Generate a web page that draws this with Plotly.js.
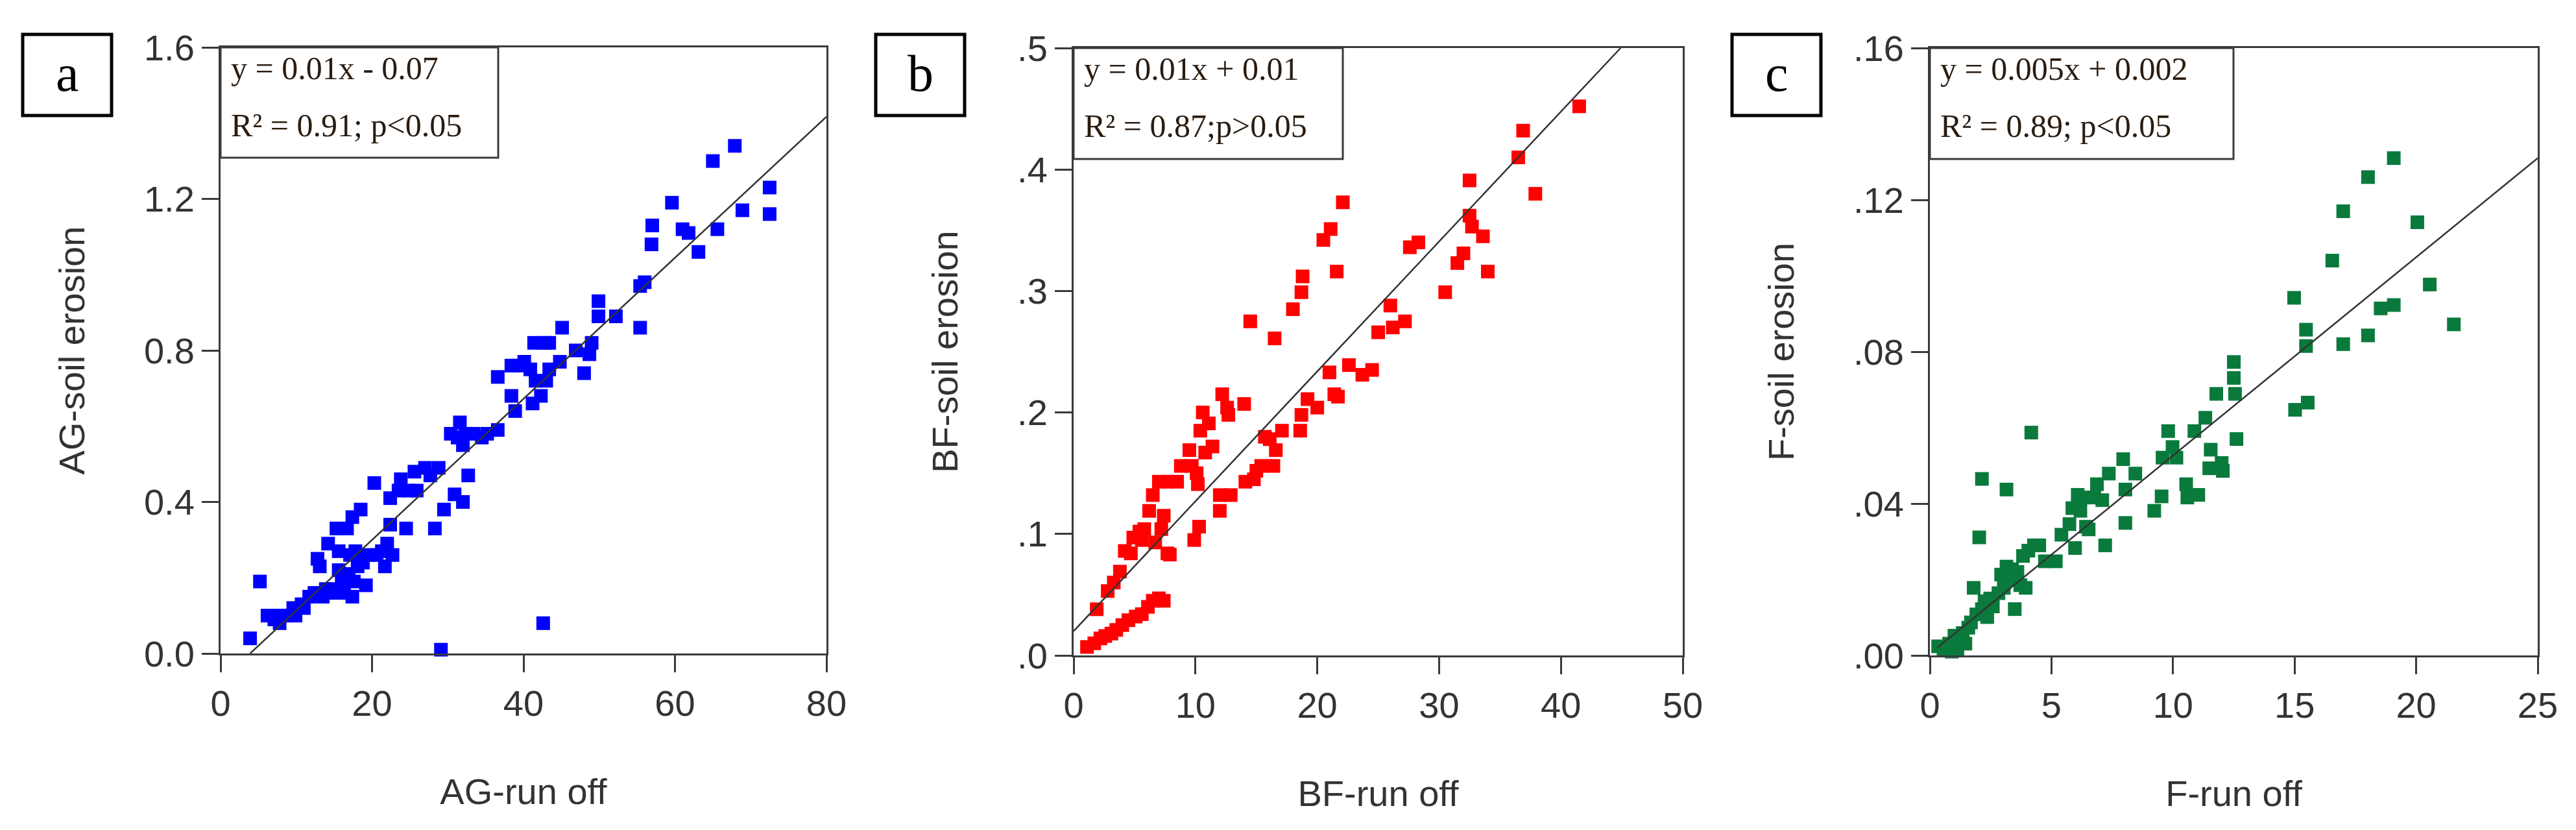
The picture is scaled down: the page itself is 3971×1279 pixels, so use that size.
<!DOCTYPE html>
<html>
<head>
<meta charset="utf-8">
<script src="https://cdn.plot.ly/plotly-3.0.1.min.js"></script>
<style>html,body{margin:0;padding:0;background:#fff;}#chart{width:3971px;height:1279px;}</style>
</head>
<body>
<div id="chart"></div>
<script>
// ---------------- DATA ----------------
// Panel a: AG
const agRunoff = [3.9,5.2,6.2,7.1,7.8,7.8,8.9,9.6,9.9,10.7,11.0,11.7,12.4,12.8,13.1,13.5,13.9,14.2,14.6,14.9,15.3,15.6,15.6,16.0,16.3,16.7,16.9,17.1,17.4,17.4,17.6,17.8,18.1,18.5,18.8,19.2,19.5,20.3,20.6,21.3,21.7,22.0,22.4,22.4,22.7,23.5,23.8,24.5,24.9,25.6,25.9,27.0,27.7,28.3,28.8,29.1,29.5,30.4,30.9,31.3,31.6,32.0,32.0,32.3,32.7,33.4,34.5,35.2,36.6,36.6,38.4,38.4,38.9,39.4,40.1,40.9,41.2,41.4,41.6,42.3,42.6,42.8,43.0,43.4,43.4,44.8,45.1,46.9,48.0,48.7,49.0,49.9,49.9,52.2,55.4,55.4,56.0,56.9,57.0,59.6,61.0,61.8,63.1,65.0,65.6,67.9,68.9,72.5,72.5];
const agErosion = [0.04,0.19,0.10,0.09,0.10,0.08,0.10,0.12,0.10,0.13,0.12,0.15,0.16,0.25,0.23,0.15,0.17,0.29,0.17,0.16,0.33,0.22,0.27,0.19,0.16,0.33,0.21,0.26,0.36,0.15,0.19,0.27,0.23,0.38,0.24,0.18,0.26,0.45,0.26,0.27,0.23,0.29,0.41,0.34,0.26,0.43,0.46,0.33,0.43,0.48,0.43,0.49,0.47,0.33,0.49,0.01,0.38,0.58,0.42,0.57,0.61,0.40,0.55,0.58,0.47,0.58,0.57,0.58,0.59,0.73,0.76,0.68,0.64,0.76,0.77,0.75,0.66,0.82,0.72,0.68,0.08,0.82,0.72,0.82,0.75,0.77,0.86,0.80,0.74,0.79,0.82,0.89,0.93,0.89,0.86,0.97,0.98,1.08,1.13,1.19,1.12,1.11,1.06,1.30,1.12,1.34,1.17,1.23,1.16];
const agFitX = [3.9, 80];
const agFitY = [0.0, 1.417];

// Panel b: BF
const bfRunoff = [1.1,1.7,2.2,2.6,3.1,3.5,4.0,4.5,5.1,5.6,6.1,6.5,7.0,7.4,1.9,2.8,3.3,3.8,4.2,4.7,4.9,5.4,5.6,5.8,6.2,6.5,6.7,7.2,7.4,7.7,7.9,7.0,7.7,8.5,8.8,9.5,9.7,9.9,10.1,10.2,10.3,10.4,10.6,10.8,11.1,11.4,12.0,12.0,12.2,12.6,12.7,12.9,14.0,14.1,14.5,14.8,15.0,15.4,15.7,16.1,16.4,16.5,16.6,17.1,18.0,18.6,18.7,18.7,18.8,19.2,20.0,20.5,21.0,21.1,21.4,21.6,21.7,22.1,22.6,23.7,24.5,25.0,26.0,26.2,27.2,27.6,28.3,30.5,31.5,32.0,32.5,32.5,32.7,33.6,34.0,36.5,36.9,37.9,41.5];
const bfErosion = [0.007,0.010,0.014,0.016,0.018,0.021,0.025,0.029,0.032,0.034,0.040,0.045,0.047,0.045,0.038,0.053,0.060,0.069,0.086,0.084,0.097,0.102,0.095,0.104,0.119,0.132,0.093,0.104,0.115,0.084,0.083,0.143,0.143,0.143,0.156,0.169,0.156,0.095,0.150,0.141,0.106,0.185,0.200,0.167,0.191,0.172,0.119,0.132,0.215,0.204,0.198,0.132,0.207,0.143,0.275,0.145,0.152,0.156,0.180,0.178,0.156,0.261,0.169,0.185,0.285,0.185,0.198,0.299,0.312,0.211,0.204,0.342,0.233,0.351,0.215,0.316,0.213,0.373,0.239,0.231,0.235,0.266,0.288,0.270,0.275,0.336,0.340,0.299,0.323,0.331,0.362,0.391,0.353,0.345,0.316,0.410,0.432,0.380,0.452];
const bfFitX = [0, 44.9];
const bfFitY = [0.02, 0.5];

// Panel c: F
const fRunoff = [0.34,0.56,0.79,0.90,1.01,1.13,1.24,1.35,1.46,1.58,1.69,1.80,1.91,2.03,2.14,2.14,2.25,2.36,2.48,2.59,2.82,2.93,3.04,3.15,3.15,3.27,3.38,3.49,3.60,3.72,3.83,3.94,4.05,4.17,4.28,4.50,4.73,5.18,5.41,5.74,5.86,5.97,6.08,6.19,6.31,6.42,6.53,6.76,6.87,7.09,7.21,7.36,7.95,8.04,8.04,8.45,9.23,9.53,9.57,9.80,9.98,10.14,10.54,10.59,10.88,11.04,11.33,11.49,11.55,11.78,12.00,12.05,12.50,12.50,12.55,12.61,14.98,15.02,15.47,15.47,15.54,16.55,17.00,17.00,18.02,18.02,18.54,19.08,19.08,20.05,20.56,21.55];
const fErosion = [0.0024,0.0017,0.0031,0.0010,0.0052,0.0017,0.0038,0.0059,0.0031,0.0073,0.0087,0.0178,0.0108,0.0311,0.0465,0.0122,0.0143,0.0101,0.0150,0.0129,0.0164,0.0213,0.0178,0.0437,0.0234,0.0199,0.0227,0.0122,0.0220,0.0185,0.0262,0.0178,0.0276,0.0587,0.0290,0.0290,0.0248,0.0248,0.0318,0.0346,0.0388,0.0283,0.0423,0.0381,0.0416,0.0339,0.0332,0.0416,0.0451,0.0409,0.0290,0.0479,0.0517,0.0437,0.0349,0.0479,0.0381,0.0419,0.0521,0.0591,0.0549,0.0521,0.0451,0.0416,0.0591,0.0423,0.0626,0.0493,0.0542,0.0689,0.0507,0.0486,0.0773,0.0731,0.0689,0.0570,0.0942,0.0647,0.0858,0.0815,0.0666,0.1040,0.1170,0.0820,0.1260,0.0843,0.0914,0.0923,0.1310,0.1141,0.0977,0.0872];
const fFitX = [0.3, 25];
const fFitY = [0.002, 0.131];

// Tick labels
const agXTicks = [0,20,40,60,80];
const agYTicks = [0,0.4,0.8,1.2,1.6];
const agYTickText = ['0.0','0.4','0.8','1.2','1.6'];
const bfXTicks = [0,10,20,30,40,50];
const bfYTicks = [0,0.1,0.2,0.3,0.4,0.5];
const bfYTickText = ['.0','.1','.2','.3','.4','.5'];
const fXTicks = [0,5,10,15,20,25];
const fYTicks = [0,0.04,0.08,0.12,0.16];
const fYTickText = ['.00','.04','.08','.12','.16'];

// Labels
const panelLetters = ['a','b','c'];
const xTitles = ['AG-run off','BF-run off','F-run off'];
const yTitles = ['AG-soil erosion','BF-soil erosion','F-soil erosion'];
const eqLines = ['y = 0.01x - 0.07','y = 0.01x + 0.01','y = 0.005x + 0.002'];
const statLines = ['R² = 0.91; p&lt;0.05','R² = 0.87;p&gt;0.05','R² = 0.89; p&lt;0.05'];

// ---------------- LAYOUT ----------------
const W = 3971, H = 1279;
const px = v => v / W;
const py = v => 1 - v / H;

// plot rectangles in pixels: [left, right, top, bottom]
const boxes = [
  [340, 1274, 73, 1007],
  [1655, 2594, 74, 1010],
  [2975, 3912, 74, 1010]
];
const eqBoxRight = [768, 2070, 3443];
const eqBoxBottom = [243, 245, 245];

const axisFont = {family: 'Liberation Sans, Arial, sans-serif', size: 56, color: '#333'};
const titleFont = {family: 'Liberation Sans, Arial, sans-serif', size: 56, color: '#333'};
const serif = 'Liberation Serif, Times New Roman, serif';

function xAxis(i, ticks, range, title) {
  const b = boxes[i];
  return {
    domain: [px(b[0]), px(b[1])], range: range, anchor: 'y' + (i ? i + 1 : ''),
    tickvals: ticks, ticktext: ticks.map(String),
    showline: true, mirror: true, linecolor: '#3a3a3a', linewidth: 3,
    ticks: 'outside', ticklen: 26, tickwidth: 3, tickcolor: '#3a3a3a',
    showgrid: false, zeroline: false, tickfont: axisFont,
    title: {text: title, font: titleFont, standoff: 86}
  };
}
function yAxis(i, ticks, text, range, title) {
  const b = boxes[i];
  return {
    domain: [py(b[3]), py(b[2])], range: range, anchor: 'x' + (i ? i + 1 : ''),
    tickvals: ticks, ticktext: text,
    showline: true, mirror: true, linecolor: '#3a3a3a', linewidth: 3,
    ticks: 'outside', ticklen: 26, tickwidth: 3, tickcolor: '#3a3a3a',
    showgrid: false, zeroline: false, tickfont: axisFont,
    title: {text: title, font: titleFont, standoff: 74}
  };
}

function scatter(x, y, color, i) {
  const s = i ? String(i + 1) : '';
  return {x: x, y: y, xaxis: 'x' + s, yaxis: 'y' + s, type: 'scatter', mode: 'markers',
    marker: {symbol: 'square', size: 21, color: color, line: {width: 0}}, cliponaxis: false};
}
function fit(x, y, i) {
  const s = i ? String(i + 1) : '';
  return {x: x, y: y, xaxis: 'x' + s, yaxis: 'y' + s, type: 'scatter', mode: 'lines',
    line: {color: '#333', width: 2.5}};
}

const data = [
  scatter(agRunoff, agErosion, '#0000ff', 0), fit(agFitX, agFitY, 0),
  scatter(bfRunoff, bfErosion, '#ff0000', 1), fit(bfFitX, bfFitY, 1),
  scatter(fRunoff, fErosion, '#0a7a3c', 2), fit(fFitX, fFitY, 2)
];

const shapes = [];
const annotations = [];
for (let i = 0; i < 3; i++) {
  const b = boxes[i];
  // equation box
  shapes.push({type: 'rect', xref: 'paper', yref: 'paper',
    x0: px(b[0]), x1: px(eqBoxRight[i]), y0: py(eqBoxBottom[i]), y1: py(b[2]),
    line: {color: '#3a3a3a', width: 3}, fillcolor: 'rgba(255,255,255,0)'});
  annotations.push({xref: 'paper', yref: 'paper', x: px(b[0] + 14), y: py(b[2] + 32),
    xanchor: 'left', yanchor: 'middle', showarrow: false, text: eqLines[i],
    font: {family: serif, size: 50, color: '#2a1c10'}});
  annotations.push({xref: 'paper', yref: 'paper', x: px(b[0] + 14), y: py(b[2] + 120),
    xanchor: 'left', yanchor: 'middle', showarrow: false, text: statLines[i],
    font: {family: serif, size: 50, color: '#2a1c10'}});
  // panel letter box
  const l = b[0] - 305, r = b[0] - 168;
  shapes.push({type: 'rect', xref: 'paper', yref: 'paper',
    x0: px(l), x1: px(r), y0: py(178), y1: py(53),
    line: {color: '#000', width: 5}});
  annotations.push({xref: 'paper', yref: 'paper', x: px((l + r) / 2), y: py(113),
    xanchor: 'center', yanchor: 'middle', showarrow: false, text: panelLetters[i],
    font: {family: serif, size: 80, color: '#000'}});
}

const layout = {
  width: W, height: H,
  margin: {l: 0, r: 0, t: 0, b: 0, pad: 0},
  paper_bgcolor: '#fff', plot_bgcolor: '#fff',
  showlegend: false,
  xaxis: xAxis(0, agXTicks, [0, 80], xTitles[0]),
  yaxis: yAxis(0, agYTicks, agYTickText, [0, 1.6], yTitles[0]),
  xaxis2: xAxis(1, bfXTicks, [0, 50], xTitles[1]),
  yaxis2: yAxis(1, bfYTicks, bfYTickText, [0, 0.5], yTitles[1]),
  xaxis3: xAxis(2, fXTicks, [0, 25], xTitles[2]),
  yaxis3: yAxis(2, fYTicks, fYTickText, [0, 0.16], yTitles[2]),
  shapes: shapes,
  annotations: annotations
};

Plotly.newPlot('chart', data, layout, {staticPlot: true, displayModeBar: false});
</script>
</body>
</html>
